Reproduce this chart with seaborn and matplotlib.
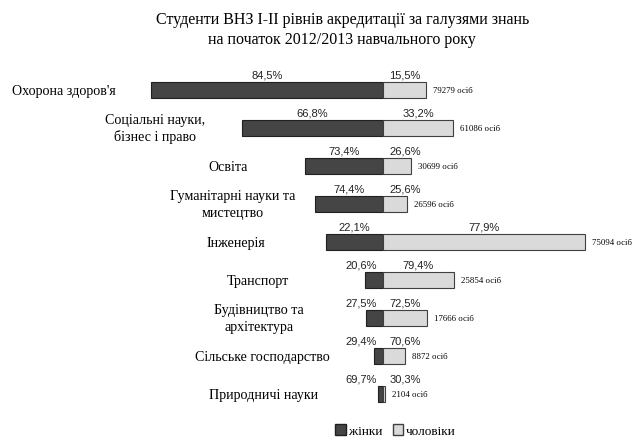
import numpy as np
import pandas as pd
from matplotlib import pyplot as plt
from matplotlib.patches import Patch
import seaborn as sns

# data
categories = ["Охорона здоров'я", "Соціальні науки,\nбізнес і право", "Освіта",
              "Гуманітарні науки та\nмистецтво", "Інженерія", "Транспорт",
              "Будівництво та\nархітектура", "Сільське господарство", "Природничі науки"]
women_pct = [84.5, 66.8, 73.4, 74.4, 22.1, 20.6, 27.5, 29.4, 69.7]
men_pct = [15.5, 33.2, 26.6, 25.6, 77.9, 79.4, 72.5, 70.6, 30.3]
totals = [79279, 61086, 30699, 26596, 75094, 25854, 17666, 8872, 2104]

df = pd.DataFrame({'cat': categories, 'women': women_pct, 'men': men_pct, 'total': totals})
df['w_n'] = df['total'] * df['women'] / 100
df['m_n'] = df['total'] * df['men'] / 100

# layout: label centers in pixels
label_px = [64, 155, 228, 233, 236, 258, 259, 262, 264]

W, H = 641, 439
center_px = 383
per_px = 289.0  # persons per pixel

fig = plt.figure(figsize=(W / 100, H / 100), dpi=100)
ax = fig.add_axes([0, 0, 1, 1])

dark = '#454545'
light = '#dadada'

sns.barplot(data=df, x=-df['w_n'], y='cat', orient='h', color=dark, width=0.42,
            edgecolor='#202020', linewidth=0.8, ax=ax, saturation=1)
sns.barplot(data=df, x='m_n', y='cat', orient='h', color=light, width=0.42,
            edgecolor='#404040', linewidth=0.8, ax=ax, saturation=1)

ax.set_xlim(-center_px * per_px, (W - center_px) * per_px)
ax.set_ylim((H - 91) / 38, -91 / 38)
ax.axis('off')

serif = 'Liberation Serif'
sans = 'Liberation Sans'

def px2x(px):
    return (px - center_px) * per_px

for i, r in df.iterrows():
    ax.text(px2x(label_px[i]), i, r['cat'], ha='center', va='center',
            family=serif, fontsize=10.1, linespacing=1.35)
    wx = min(-r['w_n'] / 2, px2x(center_px - 22))
    mx = max(r['m_n'] / 2, px2x(center_px + 22))
    ax.text(wx, i - 0.42, f"{r['women']:.1f}%".replace('.', ','), ha='center',
            va='center', family=sans, fontsize=8, color='#222222')
    ax.text(mx, i - 0.42, f"{r['men']:.1f}%".replace('.', ','), ha='center',
            va='center', family=sans, fontsize=8, color='#222222')
    ax.text(r['m_n'] + 7 * per_px, i, f"{r['total']} осіб", ha='left', va='center',
            family=serif, fontsize=6.3)

fig.text(0.534, 0.972, "Студенти ВНЗ І-ІІ рівнів акредитації за галузями знань\nна початок 2012/2013 навчального року",
         ha='center', va='top', family=serif, fontsize=11.5, linespacing=1.3)

handles = [Patch(facecolor=dark, edgecolor='#202020', label='жінки'),
           Patch(facecolor=light, edgecolor='#404040', label='чоловіки')]
fig.legend(handles=handles, loc='lower center', bbox_to_anchor=(0.617, -0.025), ncol=2,
           frameon=False, prop={'family': serif, 'size': 9.5}, handlelength=0.8,
           handleheight=0.8, handletextpad=0.2, columnspacing=0.8)

fig.savefig('out.png', dpi=100)
